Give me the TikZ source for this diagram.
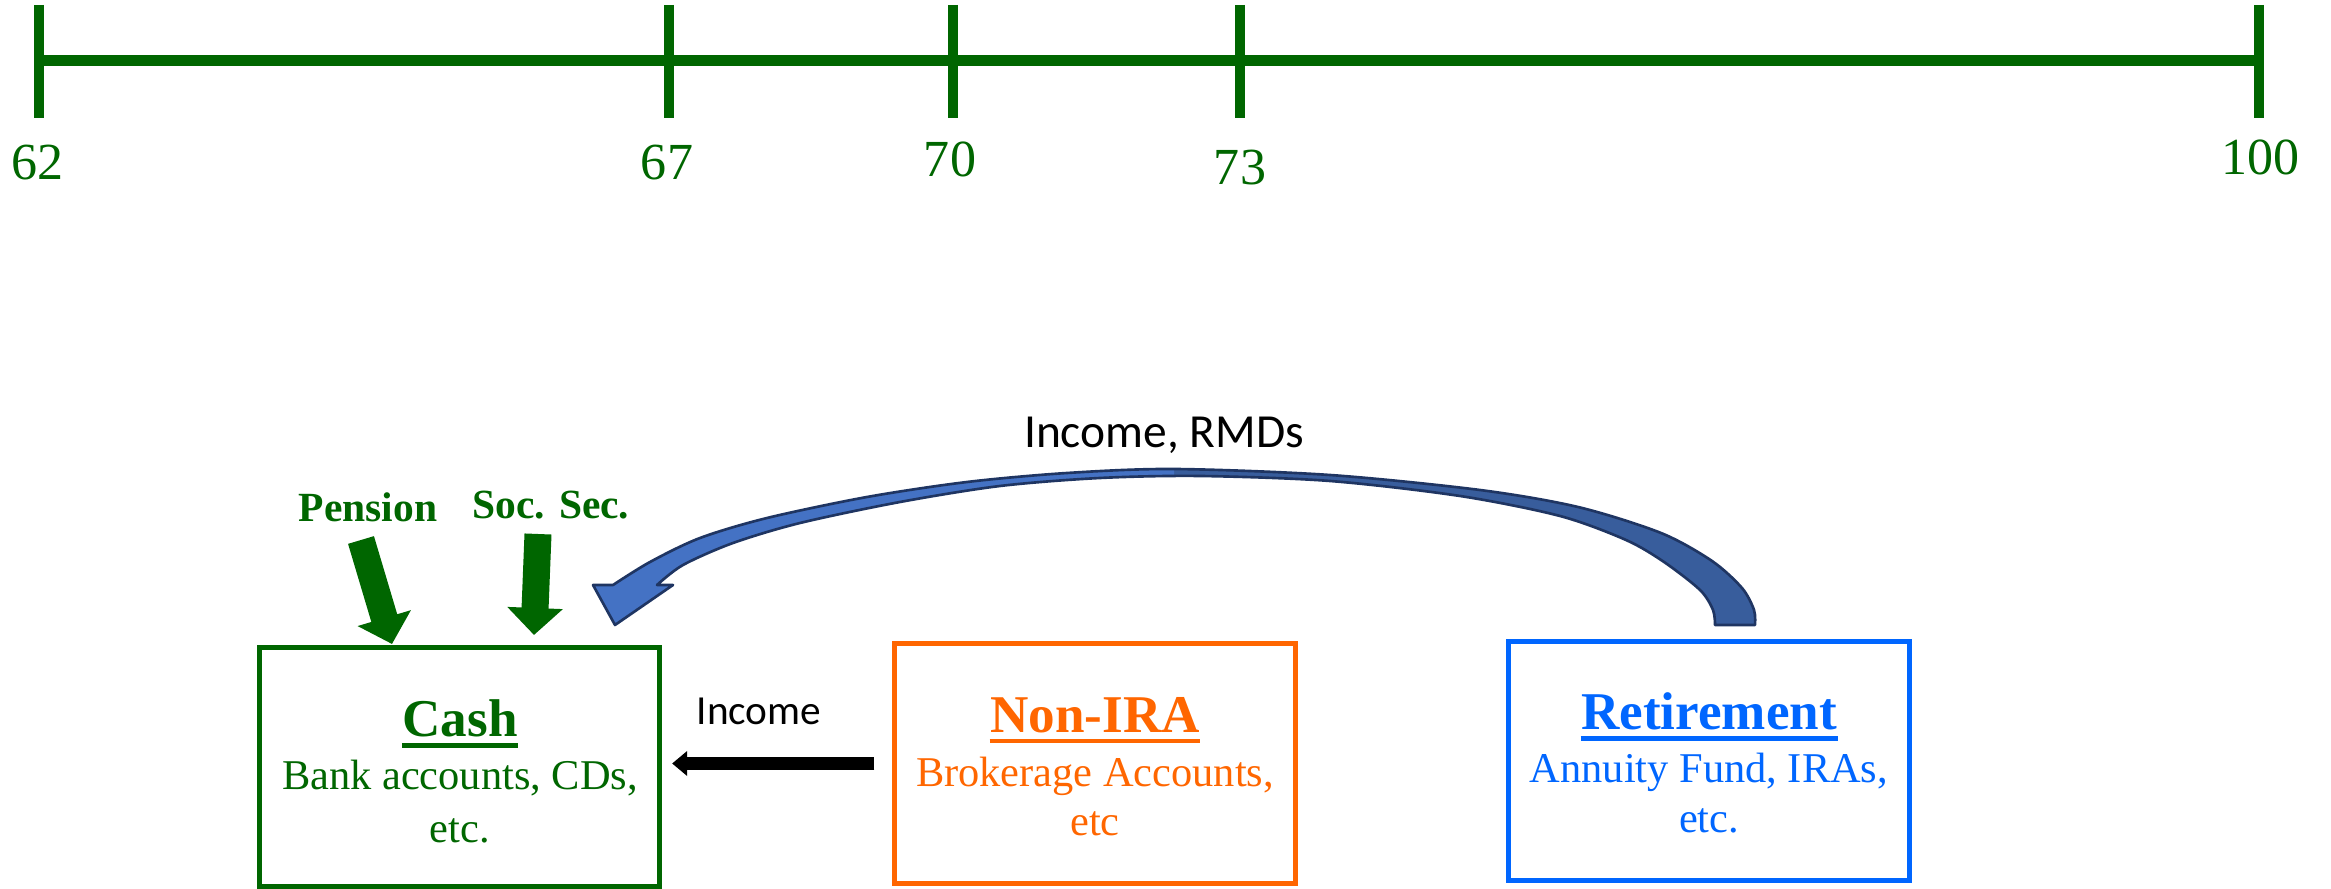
\documentclass[tikz,border=0pt]{standalone}
\usepackage{fontspec}
\setmainfont{Liberation Serif}
\newfontfamily\calib{Carlito}
\usetikzlibrary{arrows.meta,calc}
\definecolor{tgreen}{HTML}{006600}
\definecolor{torange}{HTML}{FF6600}
\definecolor{tblue}{HTML}{0066FF}
\definecolor{alight}{HTML}{4472C4}
\definecolor{adark}{HTML}{385D9C}
\definecolor{aedge}{HTML}{1F3562}
\begin{document}
\begin{tikzpicture}[x=0.01cm,y=-0.01cm,
  tline/.style={tgreen,line width=0.11cm},
  tlTick/.style={tgreen,line width=0.10cm},
  num/.style={text=tgreen,font=\fontsize{14.8}{18}\selectfont,anchor=base,inner sep=0},
  acct/.style={draw,line width=0.05cm,minimum width=4cm,minimum height=2.39cm,inner sep=0},
  ttl/.style={font=\fontsize{15.1}{18}\selectfont\bfseries,anchor=base,inner sep=0},
  body/.style={font=\fontsize{12.06}{14}\selectfont,anchor=base,inner sep=0},
  uline/.style={line width=0.045cm},
  src/.style={font=\fontsize{11.8}{14}\selectfont\bfseries,text=tgreen,anchor=base,inner sep=0},
  garrow/.style={tgreen,line width=0.27cm,-{Triangle[width=0.54cm,length=0.27cm]}},
  karrow/.style={black,line width=0.12cm,-{Triangle[width=0.24cm,length=0.15cm]}},
  lab/.style={anchor=base,inner sep=0}]
\useasboundingbox (0,0) rectangle (2331,889);

% timeline
\coordinate (t62) at (39,61);
\coordinate (t100) at (2259,61);
\draw[tline] (t62) -- (t100);
\foreach \x in {39,669,953,1240,2259} \draw[tlTick] (\x,5) -- (\x,118);
\node[num] (n62) at (38,180) {62};
\node[num] (n67) at (667,180) {67};
\node[num] (n70) at (950,177) {70};
\node[num] (n73) at (1240,185) {73};
\node[num] (n100) at (2260,175) {100};

% boxes
\node[acct,draw=tgreen] (cash) at (459.5,767) {};
\node[acct,draw=torange] (nonira) at (1095,763.5) {};
\node[acct,draw=tblue] (ret) at (1709,761) {};

\node[ttl,text=tgreen] (cashT) at (460,737) {Cash};
\draw[uline,tgreen] ($(cashT.base west)+(0,8.5)$) -- ($(cashT.base east)+(0,8.5)$);
\node[body,text=tgreen] (cash1) at (460,790) {Bank accounts, CDs,};
\node[body,text=tgreen] (cash2) at (460,842) {etc.};

\node[ttl,text=torange] (nonT) at (1095,733) {Non-IRA};
\draw[uline,torange] ($(nonT.base west)+(0,8)$) -- ($(nonT.base east)+(0,8)$);
\node[body,text=torange] (non1) at (1095,787) {Brokerage Accounts,};
\node[body,text=torange] (non2) at (1095,835) {etc};

\node[ttl,text=tblue] (retT) at (1709,730) {Retirement};
\draw[uline,tblue] ($(retT.base west)+(0,8.5)$) -- ($(retT.base east)+(0,8.5)$);
\node[body,text=tblue] (ret1) at (1709,783) {Annuity Fund, IRAs,};
\node[body,text=tblue] (ret2) at (1709,833) {etc.};

% sources
\node[src] (pension) at (368,522) {Pension};
\node[src] (socsec) at (551,519) {Soc. Sec.};
\coordinate (penA) at (361,540);
\coordinate (penB) at (392,644);
\coordinate (socA) at (538,534);
\coordinate (socB) at (534,635);
\draw[garrow] (penA) -- (penB);
\draw[garrow] (socA) -- (socB);

% income arrow
\node[lab,font=\calib\fontsize{11.75}{14}\selectfont] (inc) at (759,725) {Income};
\draw[karrow] ($(nonira.west)+(-18,0)$) -- ($(cash.east |- nonira.west)+(10,0)$);

% curved arrow
\node[lab,font=\calib\fontsize{13.5}{16}\selectfont] (rmd) at (1164,448) {Income, RMDs};
\path[save path=\bluep]
  plot[smooth] coordinates {(1755,625) (1754,610) (1742,588) (1712,561) (1661,533) (1578,507) (1480,490) (1330,475) (1174,469) (1067,473) (967,482) (867,497) (767,518) (700,538) (650,562) (613,585)}
  -- (593,585) -- (615,625) -- (673,585)
  -- plot[smooth] coordinates {(657,585) (683,565) (733,543) (800,523) (900,502) (1000,486) (1100,478) (1200,476) (1330,481) (1460,496) (1560,516) (1626,540) (1664,562) (1700,590) (1713,610) (1715,625)}
  -- cycle;
\fill[adark,use path=\bluep];
\begin{scope}
  \clip (0,0) rectangle (1174,889);
  \fill[alight,use path=\bluep];
\end{scope}
\draw[aedge,line width=0.75pt,line join=round,use path=\bluep];
\end{tikzpicture}
\end{document}
